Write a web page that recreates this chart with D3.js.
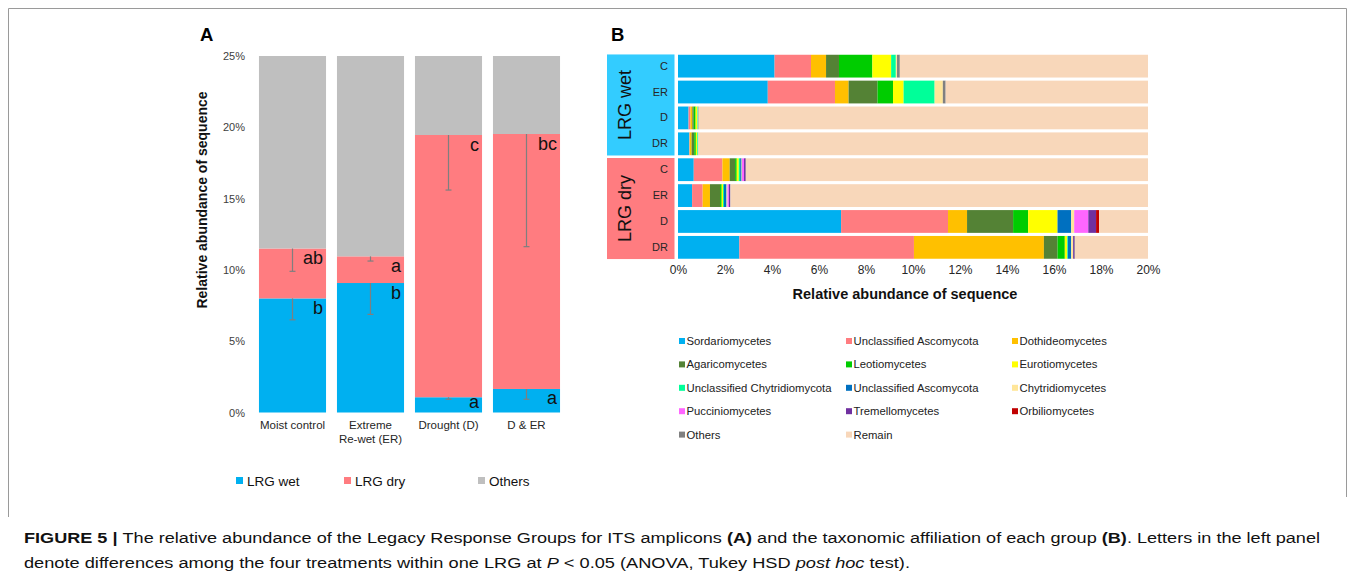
<!DOCTYPE html>
<html><head><meta charset="utf-8">
<script src="https://cdn.jsdelivr.net/npm/d3@7"></script>
<style>
body{margin:0;background:#fff;}
svg{display:block;font-family:"Liberation Sans",Arial,Helvetica,sans-serif;}
</style>
</head><body>
<svg id="c" width="1355" height="579"></svg>
<script>
// ---------- Panel A data ----------
const treatments = ["Moist control", "Extreme\nRe-wet (ER)", "Drought (D)", "D & ER"];
const lrgWet = [8.0, 9.08, 1.07, 1.65];
const lrgDry = [3.5, 1.87, 18.39, 17.88];
const lrgOthers = [13.5, 14.05, 5.54, 5.47];
const wetErr = [1.5, 2.2, 0.14, 0.72];
const dryErr = [1.6, 0.33, 3.86, 7.9];
const wetLetters = ["b", "b", "a", "a"];
const dryLetters = ["ab", "a", "c", "bc"];
const aTicks = [0, 5, 10, 15, 20, 25];
const aSeries = ["LRG wet", "LRG dry", "Others"];
const aColors = ["#00B0F0", "#FF7C80", "#BFBFBF"];

// ---------- Panel B data ----------
const groups = ["LRG wet", "LRG dry"];
const groupColors = ["#33CCFF", "#FF7C80"];
const rowLabels = ["C", "ER", "D", "DR"];
const taxa = ["Sordariomycetes", "Unclassified Ascomycota", "Dothideomycetes",
  "Agaricomycetes", "Leotiomycetes", "Eurotiomycetes",
  "Unclassified Chytridiomycota", "Unclassified Ascomycota", "Chytridiomycetes",
  "Pucciniomycetes", "Tremellomycetes", "Orbiliomycetes",
  "Others", "Remain"];
const taxaColors = ["#00B0F0", "#FF7C80", "#FFC000",
  "#548235", "#00CC00", "#FFFF00",
  "#00FF99", "#0070C0", "#FFE699",
  "#FF66FF", "#7030A0", "#C00000",
  "#808080", "#F8D7BA"];
const wetC  = [4.11, 1.55, 0.64, 0.55, 1.42, 0.80, 0.20, 0, 0.05, 0, 0, 0, 0.12, 10.56];
const wetER = [3.82, 2.86, 0.58, 1.23, 0.66, 0.45, 1.32, 0, 0.35, 0, 0, 0, 0.12, 8.61];
const wetD  = [0.45, 0.08, 0.08, 0.06, 0.08, 0.06, 0.03, 0, 0.03, 0, 0, 0, 0.02, 19.11];
const wetDR = [0.48, 0.02, 0.08, 0.11, 0.07, 0.06, 0.03, 0, 0.02, 0, 0, 0, 0.01, 19.12];
const dryC  = [0.67, 1.22, 0.31, 0.23, 0.07, 0.085, 0.06, 0.06, 0.02, 0.085, 0.07, 0, 0.01, 17.11];
const dryER = [0.60, 0.45, 0.31, 0.43, 0.07, 0.055, 0.04, 0.11, 0.04, 0.06, 0.06, 0, 0.01, 17.77];
const dryD  = [6.94, 4.55, 0.81, 1.96, 0.64, 1.25, 0, 0.58, 0.13, 0.60, 0.33, 0.13, 0, 2.08];
const dryDR = [2.61, 7.43, 5.53, 0.58, 0.31, 0.10, 0.03, 0.14, 0.085, 0, 0.06, 0, 0.02, 3.105];
const bTicks = [0, 2, 4, 6, 8, 10, 12, 14, 16, 18, 20];

const svg = d3.select("#c");

// frame
svg.append("line").attr("x1", 8.5).attr("x2", 1346.5).attr("y1", 8.5).attr("y2", 8.5).attr("stroke", "#9a9a9a");
svg.append("line").attr("x1", 8.5).attr("x2", 8.5).attr("y1", 8.5).attr("y2", 517).attr("stroke", "#9a9a9a");
svg.append("line").attr("x1", 1346.5).attr("x2", 1346.5).attr("y1", 8.5).attr("y2", 497).attr("stroke", "#9a9a9a");

// ================= Panel A =================
const xA = d3.scaleBand().domain(treatments).range([253.5, 565.5]).paddingInner(0.14).paddingOuter(0.07);
const yA = d3.scaleLinear().domain([0, 25]).range([412.5, 56]);
const gA = svg.append("g");

const stackA = treatments.map((t, i) => ({t, vals: [lrgWet[i], lrgDry[i], lrgOthers[i]]}));
stackA.forEach((d, i) => {
  let acc = 0;
  d.vals.forEach((v, k) => {
    gA.append("rect")
      .attr("x", xA(d.t)).attr("width", xA.bandwidth())
      .attr("y", yA(acc + v)).attr("height", yA(acc) - yA(acc + v))
      .attr("fill", aColors[k]);
    acc += v;
  });
});

// error bars (minus only)
const errData = [];
treatments.forEach((t, i) => {
  errData.push({t, top: lrgWet[i], err: wetErr[i], base: 0, letter: wetLetters[i]});
  errData.push({t, top: lrgWet[i] + lrgDry[i], err: dryErr[i], base: lrgWet[i], letter: dryLetters[i]});
});
errData.forEach(d => {
  const cx = xA(d.t) + xA.bandwidth() / 2;
  gA.append("line").attr("x1", cx).attr("x2", cx)
    .attr("y1", yA(d.top)).attr("y2", yA(d.top - d.err))
    .attr("stroke", "#7f7f7f").attr("stroke-width", 1.2);
  gA.append("line").attr("x1", cx - 3).attr("x2", cx + 3)
    .attr("y1", yA(d.top - d.err)).attr("y2", yA(d.top - d.err))
    .attr("stroke", "#7f7f7f").attr("stroke-width", 1.2);
  const by = Math.min(yA(d.top) + 15.5, yA(d.base) - 4.5);
  gA.append("text").attr("x", xA(d.t) + xA.bandwidth() - 3).attr("y", by)
    .attr("text-anchor", "end").attr("font-size", 18).attr("fill", "#111")
    .text(d.letter);
});

// y axis
const axA = gA.append("g").attr("transform", "translate(248,0)")
  .call(d3.axisLeft(yA).tickValues(aTicks).tickFormat(d => d + "%").tickSize(0).tickPadding(3));
axA.select(".domain").remove();
axA.selectAll("text").attr("font-size", 11).attr("fill", "#404040").attr("font-family", "Liberation Sans, Arial, sans-serif");

// x labels
const axAx = gA.append("g").attr("transform", "translate(0,412.5)")
  .call(d3.axisBottom(xA).tickSize(0).tickFormat(""));
axAx.select(".domain").remove();
axAx.selectAll(".tick").each(function(d) {
  const lines = d.split("\n");
  const t = d3.select(this).append("text").attr("text-anchor", "middle")
    .attr("font-size", 11.5).attr("fill", "#262626").attr("font-family", "Liberation Sans, Arial, sans-serif");
  lines.forEach((l, j) => t.append("tspan").attr("x", 0).attr("y", 16 + j * 14.5).text(l));
});

// y title
gA.append("text").attr("transform", "translate(207,200) rotate(-90)")
  .attr("text-anchor", "middle").attr("font-size", 14).attr("font-weight", "bold").attr("fill", "#111")
  .text("Relative abundance of sequence");

// panel label
svg.append("text").attr("x", 200).attr("y", 41).attr("font-size", 18.5).attr("font-weight", "bold").text("A");

// legend A
const legAX = [236, 344, 478];
aSeries.forEach((s, k) => {
  svg.append("rect").attr("x", legAX[k]).attr("y", 477).attr("width", 7).attr("height", 7).attr("fill", aColors[k]);
  svg.append("text").attr("x", legAX[k] + 11).attr("y", 486).attr("font-size", 13.5).attr("fill", "#111").text(s);
});

// ================= Panel B =================
const rows = [wetC, wetER, wetD, wetDR, dryC, dryER, dryD, dryDR];
const rowKeys = [];
groups.forEach(g => rowLabels.forEach(r => rowKeys.push(g + "|" + r)));
const xB = d3.scaleLinear().domain([0, 20]).range([678, 1148]);
const yB = d3.scaleBand().domain(rowKeys).range([53.2, 260.3]).paddingInner(0.12).paddingOuter(0.06);
const gB = svg.append("g");

rows.forEach((vals, r) => {
  let acc = 0;
  vals.forEach((v, k) => {
    if (v > 0) {
      gB.append("rect")
        .attr("x", xB(acc)).attr("width", Math.max(0, xB(Math.min(acc + v, 20)) - xB(acc)))
        .attr("y", yB(rowKeys[r])).attr("height", yB.bandwidth())
        .attr("fill", taxaColors[k]);
    }
    acc += v;
  });
});

// group boxes
groups.forEach((g, gi) => {
  const y0 = yB(g + "|" + rowLabels[0]) - 0.3;
  const y1 = yB(g + "|" + rowLabels[rowLabels.length - 1]) + yB.bandwidth() + 0.3;
  gB.append("rect").attr("x", 607).attr("y", y0).attr("width", 67.5).attr("height", y1 - y0).attr("fill", groupColors[gi]);
  gB.append("text").attr("transform", `translate(631,${(y0 + y1) / 2}) rotate(-90)`)
    .attr("text-anchor", "middle").attr("font-size", 18).attr("fill", "#111").text(g);
});

// row labels
const axBy = gB.append("g").attr("transform", "translate(670,0)")
  .call(d3.axisLeft(yB).tickSize(0).tickPadding(2).tickFormat(d => d.split("|")[1]));
axBy.select(".domain").remove();
axBy.selectAll("text").attr("font-size", 11).attr("fill", "#262626").attr("font-family", "Liberation Sans, Arial, sans-serif");

// x axis
const axBx = gB.append("g").attr("transform", "translate(0,260)")
  .call(d3.axisBottom(xB).tickValues(bTicks).tickFormat(d => d + "%").tickSize(0).tickPadding(5));
axBx.select(".domain").remove();
axBx.selectAll("text").attr("font-size", 12).attr("fill", "#262626").attr("font-family", "Liberation Sans, Arial, sans-serif");

gB.append("text").attr("x", 905).attr("y", 299).attr("text-anchor", "middle")
  .attr("font-size", 14.5).attr("font-weight", "bold").attr("fill", "#111")
  .text("Relative abundance of sequence");

svg.append("text").attr("x", 611).attr("y", 41).attr("font-size", 18.5).attr("font-weight", "bold").text("B");

// legend B
const legBX = [679, 846, 1012];
taxa.forEach((t, k) => {
  const col = k % 3, row = Math.floor(k / 3);
  const y = 341 + row * 23.4;
  svg.append("rect").attr("x", legBX[col]).attr("y", y - 3).attr("width", 6).attr("height", 6).attr("fill", taxaColors[k]);
  svg.append("text").attr("x", legBX[col] + 7.5).attr("y", y + 4).attr("font-size", 11.3).attr("fill", "#222").text(t);
});

// ================= Caption =================
const cap1 = svg.append("text").attr("x", 24).attr("y", 543).attr("font-size", 15.5).attr("fill", "#111")
  .attr("textLength", 1296).attr("lengthAdjust", "spacingAndGlyphs");
cap1.append("tspan").attr("font-weight", "bold").text("FIGURE 5 | ");
cap1.append("tspan").text("The relative abundance of the Legacy Response Groups for ITS amplicons ");
cap1.append("tspan").attr("font-weight", "bold").text("(A)");
cap1.append("tspan").text(" and the taxonomic affiliation of each group ");
cap1.append("tspan").attr("font-weight", "bold").text("(B)");
cap1.append("tspan").text(". Letters in the left panel");

const cap2 = svg.append("text").attr("x", 24).attr("y", 568).attr("font-size", 15.5).attr("fill", "#111")
  .attr("textLength", 886).attr("lengthAdjust", "spacingAndGlyphs");
cap2.append("tspan").text("denote differences among the four treatments within one LRG at ");
cap2.append("tspan").attr("font-style", "italic").text("P");
cap2.append("tspan").text(" < 0.05 (ANOVA, Tukey HSD ");
cap2.append("tspan").attr("font-style", "italic").text("post hoc");
cap2.append("tspan").text(" test).");
</script>
</body></html>
